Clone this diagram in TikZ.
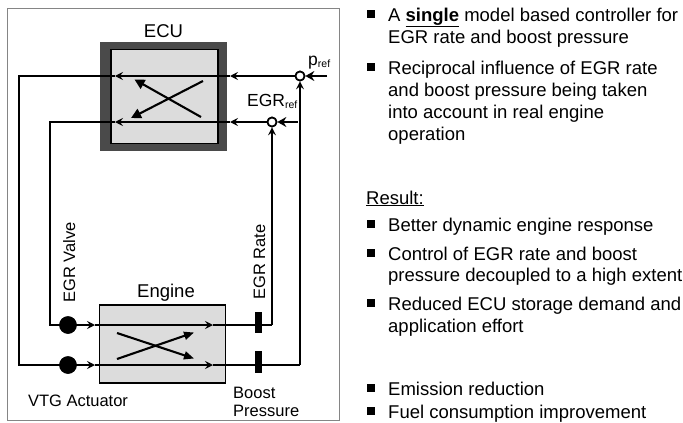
\documentclass[tikz,border=0pt]{standalone}
\usepackage{fontspec}
\setmainfont{Liberation Sans}
\usetikzlibrary{arrows.meta}
\definecolor{framec}{HTML}{858585}
\definecolor{ecudark}{HTML}{4A4A4A}
\definecolor{boxfill}{HTML}{DCDCDC}
\newcommand{\subref}[1]{\raisebox{-1.5pt}{\fontsize{10.5}{11}\selectfont #1}}
\tikzset{
  sig/.style={line width=2.1pt},
  inp/.style={line width=2.8pt,-{Stealth[length=9pt,width=10pt,inset=3pt]}},
  >={Stealth[length=8pt,width=8pt,inset=3pt]},
  cross/.style={line width=2.1pt,-{Triangle[length=10pt,width=10pt]}},
  sumc/.style={circle,draw,fill=white,line width=1.7pt,minimum size=9pt,inner sep=0pt},
  act/.style={circle,fill=black,minimum size=17.5pt,inner sep=0pt},
  bar/.style={rectangle,fill=black,minimum width=7pt,minimum height=21.5pt,inner sep=0pt},
  lbl/.style={inner sep=0pt,anchor=base},
  tx/.style={inner sep=0pt,anchor=base west},
  sm/.style={font=\fontsize{16.5}{19}\selectfont},
  refl/.style={font=\fontsize{17.5}{20}\selectfont},
  bul/.style={rectangle,fill=black,minimum size=7.5pt,inner sep=0pt},
}
\begin{document}
\begin{tikzpicture}[x=1pt,y=-1pt,font=\fontsize{18.5}{22.5}\selectfont]
\useasboundingbox (0,0) rectangle (683,423);
% frame
\draw[framec,line width=1pt] (7,8) rectangle (339,420);
% ECU
\fill[ecudark] (100,42) rectangle (227,151);
\node[draw,fill=boxfill,line width=1.8pt,minimum width=107pt,minimum height=94pt,inner sep=0pt] (ecu) at (164.25,96.5) {};
\node[lbl] (ecul) at (163.5,37) {ECU};
% Engine
\node[draw,fill=boxfill,line width=1.5pt,minimum width=126pt,minimum height=78pt,inner sep=0pt] (eng) at (162.25,344) {};
\node[lbl] (engl) at (166,297) {Engine};
% summing points, actuators, sensors
\node[sumc] (pc) at (300,76) {};
\node[sumc] (ec) at (272,122) {};
\node[act] (egrv) at (68,325) {};
\node[act] (vtg) at (68,365) {};
\node[bar] (br) at (258,322.5) {};
\node[bar] (bb) at (258,362) {};
% coordinates
\coordinate (a1) at (230,76); \coordinate (a2) at (115,76);
\coordinate (c1) at (19,76);  \coordinate (c2) at (19,365);
\coordinate (a3) at (95,365); \coordinate (a4) at (213,365);
\coordinate (c3) at (300,365);
\coordinate (b1) at (230,122); \coordinate (b2) at (115,122);
\coordinate (d1) at (50,122);  \coordinate (d2) at (50,325);
\coordinate (b3) at (95,325);  \coordinate (b4) at (213,325);
\coordinate (d3) at (272,325);
\coordinate (pin) at (327,76); \coordinate (ein) at (297.5,122);
% outer loop (boost pressure / VTG)
\draw[sig,->] (pc.west) -- (a1);
\draw[sig,->] (a1) -- (a2);
\draw[sig] (a2) -- (c1) -- (c2) -- (vtg.center);
\draw[sig,->] (vtg.center) -- (a3);
\draw[sig,->] (a3) -- (a4);
\draw[sig] (a4) -- (c3);
\draw[sig,->] (c3) -- (pc.south);
% inner loop (EGR)
\draw[sig,->] (ec.west) -- (b1);
\draw[sig,->] (b1) -- (b2);
\draw[sig] (b2) -- (d1) -- (d2) -- (egrv.center);
\draw[sig,->] (egrv.center) -- (b3);
\draw[sig,->] (b3) -- (b4);
\draw[sig] (b4) -- (d3);
\draw[sig,->] (d3) -- (ec.south);
% reference inputs
\draw[inp] (pin) -- (pc.east);
\draw[inp] (ein) -- (ec.east);
% cross couplings
\coordinate (x1s) at (203,81);  \coordinate (x1e) at (131,118);
\coordinate (x2s) at (201,117); \coordinate (x2e) at (134.5,79.5);
\draw[cross] (x1s) -- (x1e);
\draw[cross] (x2s) -- (x2e);
\coordinate (y1s) at (117,333); \coordinate (y1e) at (194,358.5);
\coordinate (y2s) at (117,359); \coordinate (y2e) at (194,332.5);
\draw[cross,-{Triangle[length=10pt,width=8pt]}] (y1s) -- (y1e);
\draw[cross,-{Triangle[length=10pt,width=8pt]}] (y2s) -- (y2e);
% redraw nodes on top
\node[sumc] at (pc) {};
\node[sumc] at (ec) {};
\node[act] at (egrv) {};
\node[act] at (vtg) {};
\node[bar] at (br) {};
\node[bar] at (bb) {};
% labels
\node[tx,refl] (pl) at (308,65.5) {p\subref{ref}};
\node[tx,refl] (el) at (247,106.5) {EGR\subref{ref}};
\node[tx,sm,rotate=90] (evl) at (75,303) {EGR Valve};
\node[tx,sm,rotate=90] (erl) at (265,300) {EGR Rate};
\node[lbl,sm] (vtgl) at (78,406.5) {VTG Actuator};
\node[tx,sm] (bpl1) at (233,398) {Boost};
\node[tx,sm] (bpl2) at (233,416.5) {Pressure};
% right column
\foreach \yy/\nm in {21/u1,74/u2,231/u3,260/u4,310/u5,395/u6,418/u7}
  \node[bul] (\nm) at (371,\yy-7) {};
\node[tx] (t1) at (388,21) {A \underline{\textbf{single}} model based controller for};
\node[tx] (t2) at (388,43.5) {EGR rate and boost pressure};
\node[tx] (t3) at (388,74) {Reciprocal influence of EGR rate};
\node[tx] (t4) at (388,96) {and boost pressure being taken};
\node[tx] (t5) at (388,118) {into account in real engine};
\node[tx] (t6) at (388,140) {operation};
\node[tx] (t7) at (366,204) {\underline{Result:}};
\node[tx] (t8) at (388,231) {Better dynamic engine response};
\node[tx] (t9) at (388,260) {Control of EGR rate and boost};
\node[tx] (t10) at (388,281.5) {pressure decoupled to a high extent};
\node[tx] (t11) at (388,310) {Reduced ECU storage demand and};
\node[tx] (t12) at (388,332) {application effort};
\node[tx] (t13) at (388,395) {Emission reduction};
\node[tx] (t14) at (388,418) {Fuel consumption improvement};
\end{tikzpicture}
\end{document}
